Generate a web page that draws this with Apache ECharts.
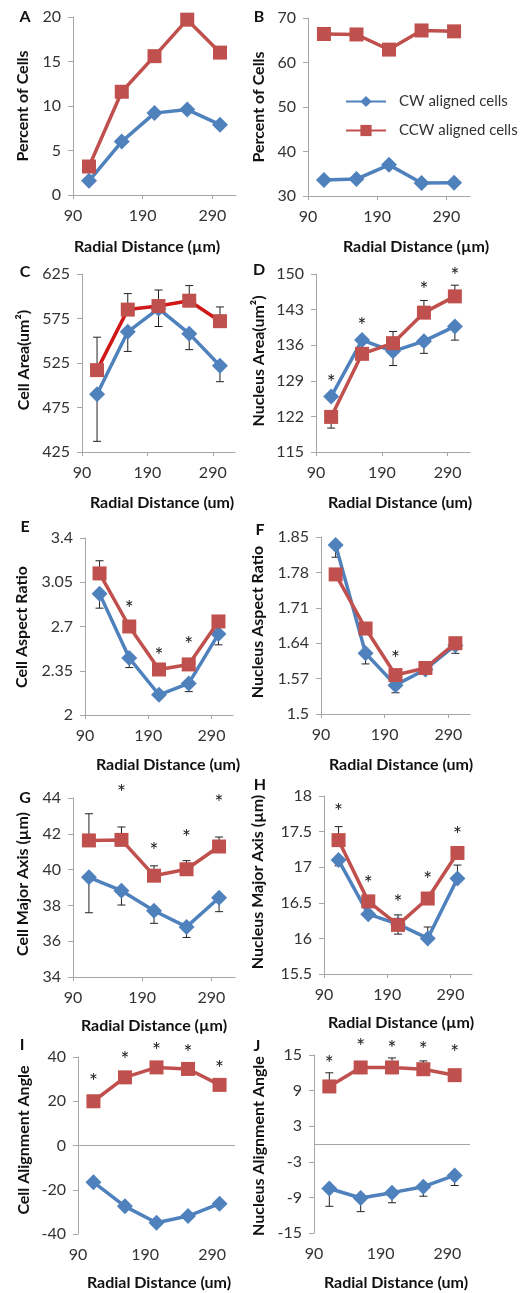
<!DOCTYPE html>
<html>
<head>
<meta charset="utf-8">
<script src="https://cdn.jsdelivr.net/npm/echarts@6/dist/echarts.min.js"></script>
<style>
  html, body { margin: 0; padding: 0; background: #fff; }
  #chart { width: 526px; height: 1293px; }
</style>
</head>
<body>
<div id="chart"></div>
<script>
// radial bins (x) and x tick labels
const radial = [113, 160, 207, 254, 301]
const xTicks = [90, 190, 290]

// A - percent of cells
const pctCW = [1.6, 6.0, 9.2, 9.6, 7.9]
const pctCCW = [3.2, 11.6, 15.6, 19.7, 16.0]
// B - percent of cells (all)
const pctAllCW = [33.6, 33.8, 37.0, 32.9, 33.0]
const pctAllCCW = [66.4, 66.3, 62.9, 67.2, 67.0]
// C - cell area
const areaCW = [490, 560, 586, 558, 522]
const areaCCW = [517, 585, 589, 595, 572]
const areaErrCW = [437, 538, 566, 540, 504]
const areaErrCCW = [554, 603, 607, 612, 588]
// D - nucleus area
const nucAreaCW = [125.9, 137.0, 134.8, 136.8, 139.7]
const nucAreaCCW = [121.9, 134.3, 136.4, 142.4, 145.6]
const nucAreaErrCW = [null, null, 132.0, 134.4, 137.0]
const nucAreaErrCCW = [119.7, null, 138.7, 144.8, 147.8]
const nucAreaStars = [129.4, 140.6, null, 147.5, 150.4]
// E - cell aspect ratio
const aspCW = [2.96, 2.45, 2.16, 2.25, 2.64]
const aspCCW = [3.12, 2.70, 2.36, 2.40, 2.74]
const aspErrCW = [2.845, 2.375, null, 2.185, 2.555]
const aspErrCCW = [3.22, null, null, null, null]
const aspStars = [null, 2.87, 2.50, 2.58, null]
// F - nucleus aspect ratio
const nucAspCW = [1.834, 1.620, 1.557, 1.588, 1.636]
const nucAspCCW = [1.776, 1.669, 1.577, 1.591, 1.640]
const nucAspErrCW = [1.81, 1.599, 1.542, 1.579, 1.62]
const nucAspErrCCW = [null, null, null, null, null]
const nucAspStars = [null, null, 1.617, null, null]
// G - cell major axis
const majCW = [39.57, 38.82, 37.70, 36.80, 38.43]
const majCCW = [41.63, 41.66, 39.66, 40.02, 41.29]
const majErrCW = [37.59, 38.02, 37.0, 36.21, 37.65]
const majErrCCW = [43.12, 42.38, 40.21, 40.5, 41.82]
const majStars = [null, 44.47, 41.26, 41.99, 43.95]
// H - nucleus major axis
const nucMajCW = [17.10, 16.34, 16.20, 16.00, 16.84]
const nucMajCCW = [17.38, 16.52, 16.19, 16.56, 17.20]
const nucMajErrCW = [17.02, null, 16.06, 16.16, 17.03]
const nucMajErrCCW = [17.57, null, 16.33, null, null]
const nucMajStars = [17.83, 16.82, 16.55, 16.87, 17.50]
// I - cell alignment angle
const angCW = [-16.6, -27.5, -34.9, -31.9, -26.3]
const angCCW = [20.0, 30.8, 35.3, 34.6, 27.4]
const angStars = [30.4, 40.2, 44.4, 43.6, 36.4]
// J - nucleus alignment angle
const nucAngCW = [-7.5, -9.1, -8.2, -7.2, -5.3]
const nucAngCCW = [9.7, 12.9, 12.9, 12.6, 11.6]
const nucAngErrCW = [-10.5, -11.4, -9.9, -8.8, -7.0]
const nucAngErrCCW = [12.0, null, 14.5, 14.0, null]
const nucAngStars = [14.2, 17.0, 16.6, 16.4, 15.9]

const BLUE = '#4F81BD'
const RED = '#C0504D'
const AXIS = '#a6a6a6'
const FONT = 'Lato, "Open Sans", sans-serif'

const panels = [
  { tag: 'A', rect: [73, 17, 163, 178], y: [0, 20, 5], cw: pctCW, ccw: pctCCW,
    yName: 'Percent of Cells', xName: 'Radial Distance (µm)',
    letter: [25, 17], yPos: [23, 106], xPos: [147, 247] },
  { tag: 'B', rect: [308, 18, 162, 178], y: [30, 70, 10], cw: pctAllCW, ccw: pctAllCCW,
    yName: 'Percent of Cells', xName: 'Radial Distance (µm)',
    letter: [259, 17], yPos: [259, 107], xPos: [416, 247] },
  { tag: 'C', rect: [82, 274, 153, 178], y: [425, 625, 50], cw: areaCW, ccw: areaCCW,
    errCW: areaErrCW, errCCW: areaErrCCW, redLine: '#d01818',
    yName: 'Cell Area(um²)', xName: 'Radial Distance (um)',
    letter: [25, 272], yPos: [24, 360], xPos: [162, 503] },
  { tag: 'D', rect: [316, 274, 154, 178], y: [115, 150, 7], cw: nucAreaCW, ccw: nucAreaCCW,
    errCW: nucAreaErrCW, errCCW: nucAreaErrCCW, stars: nucAreaStars,
    yName: 'Nucleus Area(um²)', xName: 'Radial Distance (um)',
    letter: [259, 270], yPos: [259, 361], xPos: [400, 503] },
  { tag: 'E', rect: [85, 538, 148, 177], y: [2, 3.4, 0.35], cw: aspCW, ccw: aspCCW,
    errCW: aspErrCW, errCCW: aspErrCCW, stars: aspStars,
    yName: 'Cell Aspect Ratio', xName: 'Radial Distance (um)',
    letter: [25, 527], yPos: [22, 627], xPos: [168, 765] },
  { tag: 'F', rect: [321, 537, 149, 177], y: [1.5, 1.85, 0.07], cw: nucAspCW, ccw: nucAspCCW,
    errCW: nucAspErrCW, errCCW: nucAspErrCCW, stars: nucAspStars,
    yName: 'Nucleus Aspect Ratio', xName: 'Radial Distance (um)',
    letter: [260, 530], yPos: [258, 622], xPos: [401, 765] },
  { tag: 'G', rect: [73, 798, 162, 179], y: [34, 44, 2], cw: majCW, ccw: majCCW,
    errCW: majErrCW, errCCW: majErrCCW, stars: majStars,
    yName: 'Cell Major Axis (µm)', xName: 'Radial Distance (µm)',
    letter: [25, 798], yPos: [23, 884], xPos: [154, 1026] },
  { tag: 'H', rect: [324, 796, 148, 178], y: [15.5, 18, 0.5], cw: nucMajCW, ccw: nucMajCCW,
    errCW: nucMajErrCW, errCCW: nucMajErrCCW, stars: nucMajStars,
    yName: 'Nucleus Major Axis (µm)', xName: 'Radial Distance (µm)',
    letter: [260, 785], yPos: [258, 882], xPos: [401, 1023] },
  { tag: 'I', rect: [78, 1057, 157, 177], y: [-40, 40, 20], cw: angCW, ccw: angCCW,
    stars: angStars, zero: true,
    yName: 'Cell Alignment Angle', xName: 'Radial Distance (um)',
    letter: [22, 1045], yPos: [24, 1140], xPos: [159, 1283] },
  { tag: 'J', rect: [314, 1055, 156, 178], y: [-15, 15, 6], cw: nucAngCW, ccw: nucAngCCW,
    errCW: nucAngErrCW, errCCW: nucAngErrCCW, stars: nucAngStars, zero: true,
    yName: 'Nucleus Alignment Angle', xName: 'Radial Distance (um)',
    letter: [257, 1046], yPos: [259, 1146], xPos: [396, 1283] }
]

function zip(vals) {
  return radial.map((x, k) => [x, vals[k]])
}

function errData(vals, ends) {
  return radial.map((x, k) => [x, vals[k], ends ? ends[k] : null]).filter((d) => d[2] != null)
}

function renderErr(params, api) {
  const p0 = api.coord([api.value(0), api.value(1)])
  const p1 = api.coord([api.value(0), api.value(2)])
  const st = { stroke: '#222', lineWidth: 1 }
  return {
    type: 'group',
    children: [
      { type: 'line', shape: { x1: p0[0], y1: p0[1], x2: p1[0], y2: p1[1] }, style: st },
      { type: 'line', shape: { x1: p1[0] - 4, y1: p1[1], x2: p1[0] + 4, y2: p1[1] }, style: st }
    ]
  }
}

function renderStar(params, api) {
  const p = api.coord([api.value(0), api.value(1)])
  return {
    type: 'text',
    x: p[0],
    y: p[1] + 4,
    style: { text: '*', fill: '#222', font: '21px ' + FONT, align: 'center', verticalAlign: 'middle' }
  }
}

function label(x, y, text, size, rot) {
  return {
    type: 'text',
    x: x,
    y: y,
    rotation: rot ? Math.PI / 2 : 0,
    silent: true,
    style: {
      text: text,
      fill: '#111',
      font: 'bold ' + size + 'px ' + FONT,
      align: 'center',
      verticalAlign: 'middle',
      textAlign: 'center',
      textVerticalAlign: 'middle'
    }
  }
}

const grid = []
const xAxis = []
const yAxis = []
const series = []
const graphic = []

panels.forEach((p, i) => {
  grid.push({ left: p.rect[0], top: p.rect[1], width: p.rect[2], height: p.rect[3] })
  xAxis.push({
    type: 'value',
    gridIndex: i,
    min: 90,
    max: 324,
    interval: 100,
    axisLine: { show: !p.zero, onZero: false, lineStyle: { color: AXIS, width: 1 } },
    axisTick: { show: !p.zero, customValues: xTicks, length: 4, lineStyle: { color: AXIS } },
    axisLabel: { customValues: xTicks, margin: 13, color: '#333', fontSize: 16, fontFamily: FONT },
    splitLine: { show: false }
  })
  yAxis.push({
    type: 'value',
    gridIndex: i,
    min: p.y[0],
    max: p.y[1],
    interval: p.y[2],
    axisLine: { show: true, onZero: false, lineStyle: { color: AXIS, width: 1 } },
    axisTick: { show: true, length: 5, lineStyle: { color: AXIS } },
    axisLabel: { margin: 12, color: '#333', fontSize: 16, fontFamily: FONT },
    splitLine: { show: false }
  })

  if (p.errCW || p.errCCW) {
    series.push({
      type: 'custom', xAxisIndex: i, yAxisIndex: i, z: 1, clip: false, silent: true,
      renderItem: renderErr,
      data: errData(p.cw, p.errCW).concat(errData(p.ccw, p.errCCW))
    })
  }

  const cwSeries = {
    name: 'CW aligned cells',
    type: 'line',
    xAxisIndex: i,
    yAxisIndex: i,
    z: 3,
    clip: false,
    data: zip(p.cw),
    symbol: 'diamond',
    symbolSize: 16,
    itemStyle: { color: BLUE },
    lineStyle: { color: BLUE, width: 3.5 },
    animation: false
  }
  if (p.zero) {
    cwSeries.markLine = {
      silent: true,
      symbol: ['none', 'none'],
      label: { show: false },
      lineStyle: { color: AXIS, width: 1, type: 'solid' },
      data: [{ yAxis: 0 }]
    }
  }
  series.push(cwSeries)
  series.push({
    name: 'CCW aligned cells',
    type: 'line',
    xAxisIndex: i,
    yAxisIndex: i,
    z: 4,
    clip: false,
    data: zip(p.ccw),
    symbol: 'rect',
    symbolSize: 14,
    itemStyle: { color: RED },
    lineStyle: { color: p.redLine || RED, width: 3.5 },
    animation: false
  })

  if (p.stars) {
    series.push({
      type: 'custom', xAxisIndex: i, yAxisIndex: i, z: 5, clip: false, silent: true,
      renderItem: renderStar,
      data: zip(p.stars).filter((d) => d[1] != null)
    })
  }

  graphic.push(label(p.letter[0], p.letter[1], p.tag, 16, false))
  graphic.push(label(p.yPos[0], p.yPos[1], p.yName, 16, true))
  graphic.push(label(p.xPos[0], p.xPos[1], p.xName, 16, false))
})

const chart = echarts.init(document.getElementById('chart'), null, { renderer: 'canvas' })
chart.setOption({
  animation: false,
  backgroundColor: '#fff',
  legend: {
    data: ['CW aligned cells', 'CCW aligned cells'],
    orient: 'vertical',
    left: 340,
    top: 89,
    itemWidth: 40,
    itemHeight: 14,
    itemGap: 14,
    textStyle: { fontSize: 15, color: '#333', fontFamily: FONT, padding: [0, 0, 0, 8] }
  },
  grid: grid,
  xAxis: xAxis,
  yAxis: yAxis,
  series: series,
  graphic: graphic
})
</script>
</body>
</html>
